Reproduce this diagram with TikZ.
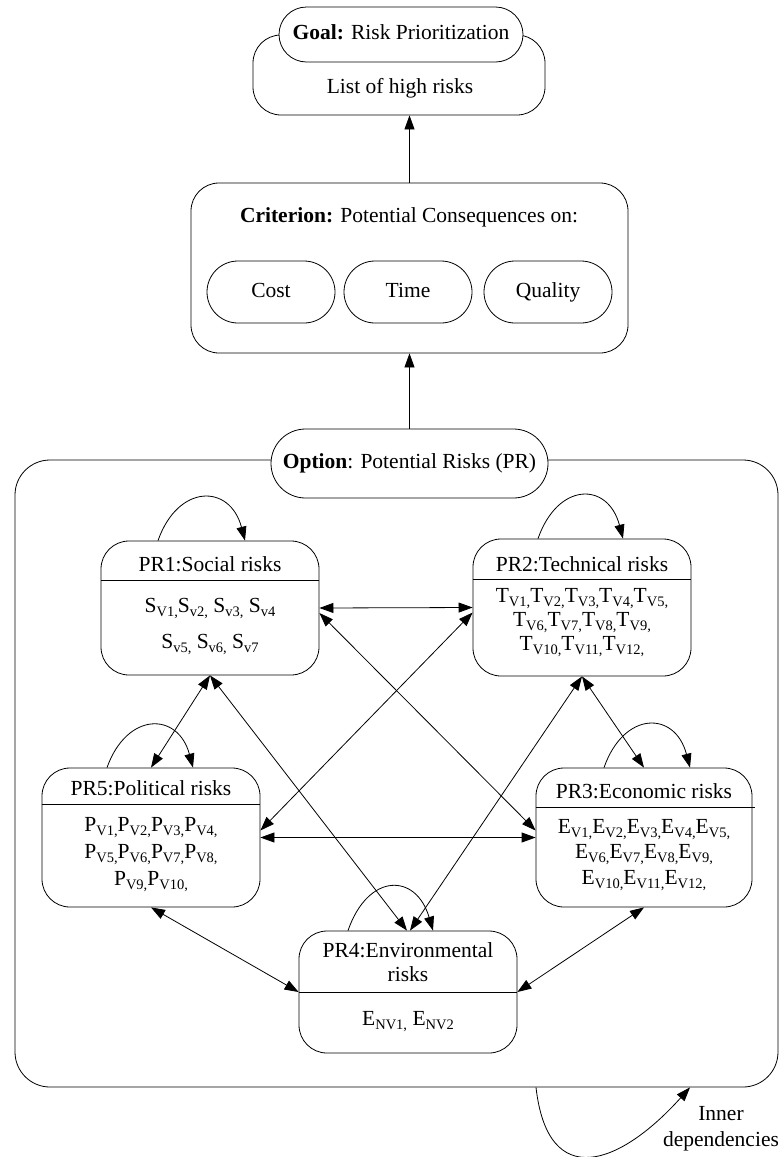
\documentclass[tikz,border=0pt]{standalone}
\usepackage{fontspec}
\setmainfont{Liberation Serif}
\usetikzlibrary{arrows.meta,calc}
\newcommand\sbs[1]{\raisebox{-0.22em}{\fontsize{14.5}{16}\selectfont #1}}

\tikzset{
  lbl/.style={font=\fontsize{21.5}{26}\selectfont, inner sep=0pt, text height=14pt, text depth=4pt},
  box/.style={draw, line width=0.8pt, fill=white, rounded corners=28pt, inner sep=0pt},
  pill/.style={draw, line width=0.8pt, fill=white, rounded corners=#1, inner sep=0pt,
    font=\fontsize{21.5}{26}\selectfont, text height=14pt, text depth=4pt},
  link/.style={line width=0.8pt, -{Triangle[length=14pt,width=10pt]}},
  twoway/.style={line width=0.8pt, {Triangle[length=14pt,width=10pt]}-{Triangle[length=14pt,width=10pt]}},
}

\begin{document}
\begin{tikzpicture}[x=1pt, y=-1pt]
\useasboundingbox (0,0) rectangle (781,1157);

% ---- goal ----
\node[box, minimum width=292, minimum height=80] (goalbox) at (399,75) {};
\node[pill=27.5pt, minimum width=244, minimum height=55] (goal) at (401,34.5) {\textbf{Goal:} Risk Prioritization};
\node[lbl] (goallist) at (400,88) {List of high risks};

% ---- criterion ----
\node[box, minimum width=437, minimum height=170] (crit) at (409.5,268) {};
\node[lbl] (crittitle) at (409,217) {\textbf{Criterion:} Potential Consequences on:};
\node[pill=31pt, minimum width=128, minimum height=62] (cost) at (271,292) {Cost};
\node[pill=31pt, minimum width=128, minimum height=62] (time) at (408,292) {Time};
\node[pill=31pt, minimum width=128, minimum height=62] (quality) at (548,292) {Quality};

% ---- options frame ----
\node[box, rounded corners=35pt, minimum width=763, minimum height=627] (outer) at (396.5,773.5) {};
\node[pill=34.5pt, minimum width=277, minimum height=69] (option) at (409.5,463.5) {\textbf{Option}: Potential Risks (PR)};

\draw[link] (crit.north) -- (crit.north |- goalbox.south);
\draw[link] (option.north) -- (crit.south);

% ---- risk groups ----
\node[box, minimum width=218, minimum height=134] (pr1) at (210,608) {};
\node[box, minimum width=218, minimum height=137] (pr2) at (582,607.5) {};
\node[box, minimum width=218, minimum height=139] (pr5) at (151,837.5) {};
\node[box, minimum width=216, minimum height=139] (pr3) at (644,837.5) {};
\node[box, minimum width=218, minimum height=122] (pr4) at (408,992) {};

\draw[line width=0.8pt] ($(pr1.north west)+(0,40)$) -- ($(pr1.north east)+(0,40)$);
\draw[line width=0.8pt] ($(pr2.north west)+(0,41)$) -- ($(pr2.north east)+(0,41)$);
\draw[line width=0.8pt] ($(pr5.north west)+(0,37)$) -- ($(pr5.north east)+(0,37)$);
\draw[line width=0.8pt] ($(pr3.north west)+(0,40)$) -- ($(pr3.north east)+(3,40)$);
\draw[line width=0.8pt] ($(pr4.north west)+(0,62)$) -- ($(pr4.north east)+(0,62)$);

\node[lbl] (pr1t) at (210,566) {PR1:Social risks};
\node[lbl] (pr1a) at (210,607) {S\sbs{V1,}S\sbs{v2,} S\sbs{v3,} S\sbs{v4}};
\node[lbl] (pr1b) at (210,643) {S\sbs{v5,} S\sbs{v6,} S\sbs{v7}};

\node[lbl] (pr2t) at (582,566) {PR2:Technical risks};
\node[lbl] (pr2a) at (582,597) {T\sbs{V1,}T\sbs{V2,}T\sbs{V3,}T\sbs{V4,}T\sbs{V5,}};
\node[lbl] (pr2b) at (582,621) {T\sbs{V6,}T\sbs{V7,}T\sbs{V8,}T\sbs{V9,}};
\node[lbl] (pr2c) at (582,645) {T\sbs{V10,}T\sbs{V11,}T\sbs{V12,}};

\node[lbl] (pr5t) at (151,790) {PR5:Political risks};
\node[lbl] (pr5a) at (151,826) {P\sbs{V1,}P\sbs{V2,}P\sbs{V3,}P\sbs{V4,}};
\node[lbl] (pr5b) at (151,853) {P\sbs{V5,}P\sbs{V6,}P\sbs{V7,}P\sbs{V8,}};
\node[lbl] (pr5c) at (151,880) {P\sbs{V9,}P\sbs{V10,}};

\node[lbl] (pr3t) at (644,793) {PR3:Economic risks};
\node[lbl] (pr3a) at (644,828) {E\sbs{V1,}E\sbs{V2,}E\sbs{V3,}E\sbs{V4,}E\sbs{V5,}};
\node[lbl] (pr3b) at (644,853) {E\sbs{V6,}E\sbs{V7,}E\sbs{V8,}E\sbs{V9,}};
\node[lbl] (pr3c) at (644,879) {E\sbs{V10,}E\sbs{V11,}E\sbs{V12,}};

\node[lbl] (pr4t) at (408,952) {PR4:Environmental};
\node[lbl] (pr4u) at (408,976) {risks};
\node[lbl] (pr4a) at (408,1020) {E\sbs{NV1,} E\sbs{NV2}};

% ---- self dependencies ----
\draw[link] ($(pr1.north)+(-52,0)$) .. controls ($(pr1.north)+(-32,-57)$) and ($(pr1.north)+(20,-57)$) .. ($(pr1.north)+(35,0)$);
\draw[link] ($(pr2.north)+(-44,0)$) .. controls ($(pr2.north)+(-24,-57)$) and ($(pr2.north)+(26,-57)$) .. ($(pr2.north)+(41,0)$);
\draw[link] ($(pr5.north)+(-44,0)$) .. controls ($(pr5.north)+(-24,-56)$) and ($(pr5.north)+(27,-56)$) .. ($(pr5.north)+(42,0)$);
\draw[link] ($(pr3.north)+(-40,0)$) .. controls ($(pr3.north)+(-20,-57)$) and ($(pr3.north)+(31,-57)$) .. ($(pr3.north)+(46,0)$);
\draw[link] ($(pr4.north)+(-60,0)$) .. controls ($(pr4.north)+(-40,-58)$) and ($(pr4.north)+(8,-58)$) .. ($(pr4.north)+(25,0)$);

% ---- mutual dependencies ----
\draw[twoway] (pr1.east) -- (pr2.west);
\draw[twoway] ($(pr1.east)+(0,5)$) -- ($(pr3.west)+(0,-7)$);
\draw[twoway] ($(pr2.west)+(0,5)$) -- ($(pr5.east)+(0,-7)$);
\draw[twoway] (pr5.east) -- (pr3.west);
\draw[twoway] (pr1.south) -- (pr5.north);
\draw[twoway] (pr1.south) -- ($(pr4.north)+(-1,0)$);
\draw[twoway] (pr2.south) -- (pr3.north);
\draw[twoway] (pr2.south) -- ($(pr4.north)+(2,0)$);
\draw[twoway] (pr5.south) -- (pr4.west);
\draw[twoway] (pr3.south) -- (pr4.east);

% ---- inner dependencies loop ----
\coordinate (loopa) at ($(outer.south)+(139.5,0)$);
\coordinate (loopb) at ($(outer.south)+(293.5,0)$);
\draw[link] (loopa) .. controls ($(outer.south)+(151.5,105)$) and ($(outer.south)+(223.5,78)$) .. (loopb);
\node[font=\fontsize{21.5}{26}\selectfont, align=center, inner sep=0pt] (innerlbl) at (721,1129) {Inner\\dependencies};
\end{tikzpicture}
\end{document}
